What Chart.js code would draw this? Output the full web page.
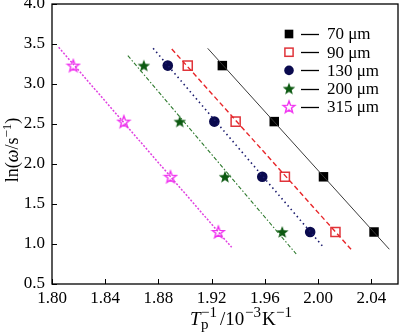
<!DOCTYPE html>
<html>
<head>
<meta charset="utf-8">
<script src="https://cdn.jsdelivr.net/npm/chart.js@4/dist/chart.umd.min.js"></script>
<style>
  html, body { margin: 0; padding: 0; background: #fff; }
  #wrap { width: 400px; height: 332px; position: relative; }
</style>
</head>
<body>
<div id="wrap"><canvas id="c"></canvas></div>
<script>
// ---------- data ----------
const seriesLabels = ['70 μm', '90 μm', '130 μm', '200 μm', '315 μm'];
const lnOmega = [3.23, 2.53, 1.84, 1.15];
const x70  = [1.928, 1.967, 2.004, 2.042];
const x90  = [1.902, 1.938, 1.975, 2.013];
const x130 = [1.887, 1.922, 1.958, 1.994];
const x200 = [1.869, 1.896, 1.930, 1.973];
const x315 = [1.816, 1.854, 1.889, 1.925];
// fitted straight lines: [start, end] as [x, y]
const fit70  = [[1.917, 3.446], [2.0535, 0.934]];
const fit90  = [[1.890, 3.438], [2.0247, 0.934]];
const fit130 = [[1.876, 3.446], [2.0043, 0.954]];
const fit200 = [[1.857, 3.354], [1.9835, 0.875]];
const fit315 = [[1.805, 3.459], [1.935, 0.958]];
const xTicks = [1.80, 1.84, 1.88, 1.92, 1.96, 2.00, 2.04];
const yTicks = [0.5, 1.0, 1.5, 2.0, 2.5, 3.0, 3.5, 4.0];

const FONT = '"Liberation Serif", "Times New Roman", serif';

function starCanvas(r, fill, stroke, lw) {
  const s = Math.ceil(2 * r + lw + 2);
  const c = document.createElement('canvas');
  c.width = s; c.height = s;
  const g = c.getContext('2d');
  g.translate(s / 2, s / 2 + r * 0.08);
  g.beginPath();
  for (let i = 0; i < 10; i++) {
    const a = -Math.PI / 2 + i * Math.PI / 5;
    const rr = (i % 2) ? r * 0.42 : r;
    const px = Math.cos(a) * rr, py = Math.sin(a) * rr;
    if (i === 0) g.moveTo(px, py); else g.lineTo(px, py);
  }
  g.closePath();
  if (fill) { g.fillStyle = fill; g.fill(); }
  if (stroke) { g.lineJoin = 'miter'; g.strokeStyle = stroke; g.lineWidth = lw; g.stroke(); }
  return c;
}
const greenStar = starCanvas(6.6, '#0d5a12', null, 0);
const pinkStar  = starCanvas(6.2, null, '#f030f0', 1.4);

const pts = xs => xs.map((x, i) => ({ x: x, y: lnOmega[i] }));
const line = f => f.map(p => ({ x: p[0], y: p[1] }));

const markerDefs = [
  { pointStyle: 'rect', pointRadius: 6.7, pointBackgroundColor: '#000', pointBorderColor: '#000', pointBorderWidth: 0 },
  { pointStyle: 'rect', pointRadius: 6.4, pointBackgroundColor: 'rgba(0,0,0,0)', pointBorderColor: '#e0343a', pointBorderWidth: 1.5 },
  { pointStyle: 'circle', pointRadius: 5.3, pointBackgroundColor: '#0a0a4e', pointBorderColor: '#0a0a4e', pointBorderWidth: 0 },
  { pointStyle: greenStar, pointRadius: 7 },
  { pointStyle: pinkStar, pointRadius: 7 }
];
const lineDefs = [
  { borderColor: '#3a3a3a', borderWidth: 1, borderDash: [] },
  { borderColor: '#e8262a', borderWidth: 1.4, borderDash: [5, 3] },
  { borderColor: '#1c1c6e', borderWidth: 1.6, borderDash: [1.5, 3.2] },
  { borderColor: '#2e7a2e', borderWidth: 1.1, borderDash: [4, 2, 1.5, 2] },
  { borderColor: '#e040e0', borderWidth: 1.5, borderDash: [2, 1.6] }
];
const xsAll = [x70, x90, x130, x200, x315];
const fitsAll = [fit70, fit90, fit130, fit200, fit315];

const datasets = [];
fitsAll.forEach((f, i) => {
  datasets.push(Object.assign({
    label: 'fit ' + seriesLabels[i], data: line(f), showLine: true,
    pointRadius: 0, fill: false
  }, lineDefs[i]));
});
xsAll.forEach((xs, i) => {
  datasets.push(Object.assign({
    label: seriesLabels[i], data: pts(xs), showLine: false
  }, markerDefs[i]));
});

// draws inward ticks, frame, legend and axis titles
const decor = {
  id: 'decor',
  afterDraw(chart) {
    const ctx = chart.ctx, a = chart.chartArea;
    const xs = chart.scales.x, ys = chart.scales.y;
    ctx.save();
    ctx.strokeStyle = '#000';
    ctx.lineWidth = 1.3;
    ctx.strokeRect(a.left, a.top, a.right - a.left, a.bottom - a.top);
    ctx.lineWidth = 1;
    ctx.beginPath();
    xs.ticks.forEach(t => {
      const px = Math.round(xs.getPixelForValue(t.value)) + 0.5;
      ctx.moveTo(px, a.bottom); ctx.lineTo(px, a.bottom - 5);
    });
    ys.ticks.forEach(t => {
      const py = Math.round(ys.getPixelForValue(t.value)) + 0.5;
      ctx.moveTo(a.left, py); ctx.lineTo(a.left + 5, py);
    });
    ctx.stroke();

    // legend
    const lx = 289, ly0 = 34, dy = 18.2;
    ctx.font = '17px ' + FONT;
    ctx.textBaseline = 'middle';
    ctx.textAlign = 'left';
    seriesLabels.forEach((lab, i) => {
      const y = ly0 + i * dy;
      const m = markerDefs[i];
      if (m.pointStyle === 'rect') {
        const s = (m.pointRadius - 0.6) / Math.SQRT2;
        if (m.pointBorderWidth) {
          ctx.strokeStyle = m.pointBorderColor; ctx.lineWidth = m.pointBorderWidth;
          ctx.strokeRect(lx - s, y - s, 2 * s, 2 * s);
        } else {
          ctx.fillStyle = m.pointBackgroundColor;
          ctx.fillRect(lx - s, y - s, 2 * s, 2 * s);
        }
      } else if (m.pointStyle === 'circle') {
        ctx.fillStyle = m.pointBackgroundColor;
        ctx.beginPath(); ctx.arc(lx, y, m.pointRadius - 0.5, 0, Math.PI * 2); ctx.fill();
      } else {
        const img = m.pointStyle;
        ctx.drawImage(img, lx - img.width / 2, y - img.height / 2);
      }
      ctx.strokeStyle = '#000'; ctx.lineWidth = 1.3;
      ctx.beginPath(); ctx.moveTo(301, Math.round(y) + 0.5); ctx.lineTo(319, Math.round(y) + 0.5); ctx.stroke();
      ctx.fillStyle = '#000';
      ctx.fillText(lab, 327, y + 1);
    });

    // x title: T_p^-1/10^-3K^-1 (pieces placed at set x offsets)
    const main = '19px ' + FONT, mainI = 'italic 19px ' + FONT, small = '15px ' + FONT;
    ctx.fillStyle = '#000';
    ctx.textBaseline = 'alphabetic';
    ctx.textAlign = 'left';
    const bx = 325;
    const xPieces = [
      { t: 'T',   f: mainI, x: 184, dy: 0 },
      { t: 'p',   f: small, x: 195, dy: 4 },
      { t: '−1',  f: small, x: 195, dy: -8 },
      { t: '/10', f: main,  x: 214, dy: 0 },
      { t: '−3',  f: small, x: 239, dy: -8 },
      { t: 'K',   f: main,  x: 256, dy: 0 },
      { t: '−1',  f: small, x: 270, dy: -8 }
    ];
    xPieces.forEach(p => { ctx.font = p.f; ctx.fillText(p.t, p.x + 6, bx + p.dy); });

    // y title: ln(ω/s^-1)
    const big = '18px ' + FONT, bigI = 'italic 18px ' + FONT, sm = '13px ' + FONT;
    const ysegs = [
      { t: 'ln(', f: big, dy: 0 },
      { t: 'ω', f: bigI, dy: 0 },
      { t: '/s', f: big, dy: 0 },
      { t: '−1', f: sm, dy: -7 },
      { t: ')', f: big, dy: 0 }
    ];
    let wY = 0;
    ysegs.forEach(s => { ctx.font = s.f; s.w = ctx.measureText(s.t).width; wY += s.w; });
    ctx.save();
    ctx.translate(18, 150);
    ctx.rotate(-Math.PI / 2);
    let cx = -wY / 2;
    ysegs.forEach(s => { ctx.font = s.f; ctx.fillText(s.t, cx, s.dy); cx += s.w; });
    ctx.restore();
    ctx.restore();
  }
};

new Chart(document.getElementById('c'), {
  type: 'scatter',
  data: { datasets: datasets },
  options: {
    responsive: true,
    maintainAspectRatio: false,
    animation: false,
    devicePixelRatio: 1,
    layout: { autoPadding: false, padding: { left: 0, right: 2, top: 4, bottom: 0 } },
    plugins: { legend: { display: false }, tooltip: { enabled: false } },
    scales: {
      x: {
        type: 'linear', min: 1.80, max: 2.06,
        afterBuildTicks: s => { s.ticks = xTicks.map(v => ({ value: v })); },
        afterFit: s => { s.height = 48; s.paddingLeft = 0; s.paddingRight = 0; },
        grid: { display: false, drawTicks: false },
        border: { display: false },
        ticks: { padding: 4, color: '#000', font: { family: FONT, size: 17 },
                 callback: v => v.toFixed(2), maxRotation: 0, autoSkip: false }
      },
      y: {
        type: 'linear', min: 0.5, max: 4.0,
        afterBuildTicks: s => { s.ticks = yTicks.map(v => ({ value: v })); },
        afterFit: s => { s.width = 52; s.paddingTop = 0; s.paddingBottom = 0; },
        grid: { display: false, drawTicks: false },
        border: { display: false },
        ticks: { padding: 7, color: '#000', font: { family: FONT, size: 17 },
                 callback: v => v.toFixed(1), autoSkip: false }
      }
    }
  },
  plugins: [decor]
});
</script>
</body>
</html>
